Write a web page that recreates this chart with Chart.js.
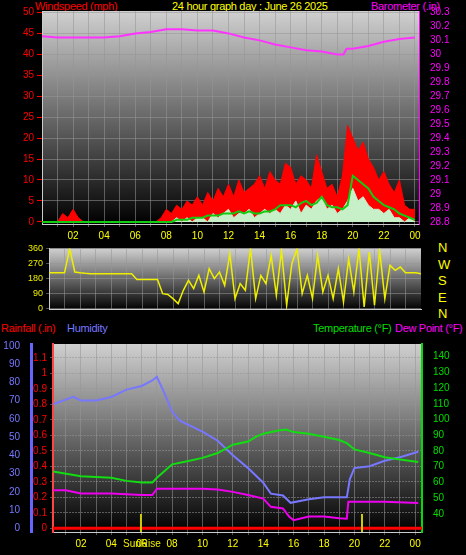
<!DOCTYPE html>
<html>
<head>
<meta charset="utf-8">
<script src="https://cdn.jsdelivr.net/npm/chart.js@4.4.1/dist/chart.umd.min.js"></script>
<style>
  body { margin: 0; background: #000; width: 466px; height: 555px; overflow: hidden; font-family: "Liberation Sans", Arial, sans-serif; }
  canvas { position: absolute; left: 0; }
  .t { position: absolute; font-size: 11px; letter-spacing: -0.3px; white-space: nowrap; line-height: 12px; }
</style>
</head>
<body>
<div class="t" style="left:35px;top:0;color:#f00">Windspeed (mph)</div>
<div class="t" style="left:172px;top:0;color:#ff0">24 hour graph day : June 26 2025</div>
<div class="t" style="left:371px;top:0;color:#f0f">Barometer (.in)</div>
<div class="t" style="left:438px;top:240px;color:#ff0;line-height:16.5px;font-size:13px">N<br>W<br>S<br>E<br>N</div>
<div class="t" style="left:1px;top:322px;color:#f00">Rainfall (.in)</div>
<div class="t" style="left:67px;top:322px;color:#77f">Humidity</div>
<div class="t" style="left:313px;top:322px;color:#0d0">Temperature (°F)</div>
<div class="t" style="left:395px;top:322px;color:#f0f">Dew Point (°F)</div>

<canvas id="wind" style="top:0" width="466" height="245"></canvas>
<canvas id="dir" style="top:240px" width="466" height="78"></canvas>
<canvas id="temp" style="top:335px" width="466" height="220"></canvas>

<script>
// wind samples every 20 minutes, 00:00 .. 24:00
const windTimes = Array.from({ length: 73 }, (_, i) => i / 3);
const windGust = [
  0,0,0,0,2,1, 3,1,0,0,0,0, 0,0,0,0,0,0, 0,0,0,0,0,1,
  3,2,4,3,5,4, 6,4,7,5,8,6, 9,6,10,7,8,9, 11,8,12,10,9,14,
  13,9,11,10,8,16, 12,8,9,6,11,23, 20,17,19,15,13,10, 12,9,7,10,4,3, 3
];
const windSpeed = [
  0,0,0,0,0,0, 0,0,0,0,0,0, 0,0,0,0,0,0, 0,0,0,0,0,0,
  0,0,1,0,1,0, 1,1,0,2,1,2, 3,1,2,2,3,1, 2,3,2,3,2,4,
  3,5,2,4,3,5, 6,3,4,2,3,5, 8,5,6,4,3,3, 2,3,1,1,0,1, 0
];
const windAvg = [
  0,0,0,0,0,0, 0,0,0,0,0,0, 0,0,0,0,0,0, 0,0,0,0,0,0,
  0,0,0.5,0.5,0.5,1, 1,1,1.5,1.5,1.5,2, 2,2,2.5,2,2.5,2, 2,2.5,2.5,3,4,4,
  4,3.5,4.5,5,4,4.5, 6,4,3.5,3.5,3,4, 11,10,9,8,6,5, 4,3.5,3,2,1.5,1, 0.5
];
const windDir = [
  215,215,215, 215,360,220, 215,212,210, 210,210,210, 210,210,210, 210,210,175,
  175,175,175, 175,90,85, 60,30,110, 170,120,200, 100,240,180, 220,140,330,
  60,150,110, 360,60,200, 150,320,80, 350,20,270, 360,90,200, 60,320,100,
  200,60,240, 40,300,100, 360,10,340, 20,350,60, 260,230,250, 215,215,215, 210
];

const baroHours = [0,1,2,4,5,6,7,8,9,10,11,12,13,14,15,16,17,18,19,19.4,19.6,20,21,22,23,24];
const baro = [30.13,30.12,30.12,30.12,30.13,30.15,30.16,30.18,30.18,30.17,30.17,30.15,30.12,30.10,30.07,30.05,30.03,30.02,30.0,30.0,30.04,30.04,30.06,30.09,30.11,30.12];

const humHours = [0.16,1.5,2,3,4,5,6,6.7,7,7.5,8,8.5,10,11,12,13,14,14.5,15.3,15.8,17,18,19,19.5,19.7,20,21,22,23,24.2];
const humidity = [68,72,70,70,72,76,78,81,83,74,64,59,53,48,40,33,25,19,18,14,16,17,17,17,27,33,34,37,39,42];

const tempHours = [0.16,2,4,5,6,6.7,7,8,9,10,11,12,13,13.5,14,15,15.5,16,17,18,19,19.5,20,21,22,23,24.2];
const temperature = [67,64,63,61,60,60,63,71.5,73.5,75.6,78.7,84,86,89,91,93,93.6,92,91,89,87,85,81,78.7,76,74.6,73];

const dewHours = [0.16,1,2,4,6,6.7,7,10,11,12,13,14,14.5,15.3,15.7,16,17,18,19,19.5,19.6,20,22,24.2];
const dewPoint = [55,55,53,53,52,52,56,56,55.5,54,52,49.7,44.5,43.5,38.3,36,38.3,38.3,37.3,37,47.7,47.7,47.7,47];

const rainHours = [0.16, 24.45];
const rainfall = [0, 0];

const sunRise = 5.95, sunSet = 20.5;

const pts = (xs, ys) => xs.map((x, i) => ({ x, y: ys[i] }));
const font = { family: "Liberation Sans, Arial, sans-serif", size: 10 };
const gridColor = "rgba(150,150,150,0.55)";
const hourLabel = v => (v % 2 === 0 && v > 0 ? String(v % 24).padStart(2, "0") : "");

const backdrop = {
  id: "backdrop",
  beforeDraw(chart) {
    const { ctx, chartArea: a } = chart;
    const g = ctx.createLinearGradient(0, a.top, 0, a.bottom);
    g.addColorStop(0, "#d0d0d0");
    g.addColorStop(1, "#000");
    ctx.save();
    ctx.fillStyle = g;
    ctx.fillRect(a.left, a.top, a.right - a.left, a.bottom - a.top);
    ctx.restore();
  }
};

function fix(w) { return s => { s.width = w; }; }
function fixH(h) { return s => { s.height = h; }; }
function intTicks(from, to, step) {
  return s => { s.ticks = []; for (let v = from; v <= to + 1e-9; v += step) s.ticks.push({ value: +v.toFixed(2) }); };
}
const line = (data, color, axis, width, extra) => Object.assign({
  data, borderColor: color, backgroundColor: color, yAxisID: axis,
  borderWidth: width, pointRadius: 0, tension: 0
}, extra || {});

new Chart(document.getElementById("wind"), {
  type: "line",
  data: {
    datasets: [
      line(pts(windTimes, windAvg), "#1c1", "y", 2),
      line(pts(windTimes, windSpeed), "#c8f0c8", "y", 1, { fill: "origin" }),
      line(pts(windTimes, windGust), "#f00", "y", 1, { fill: "origin" }),
      line(pts(baroHours, baro), "#f3f", "y2", 2)
    ]
  },
  options: {
    responsive: false, animation: false,
    layout: { padding: { top: 11 } },
    plugins: { legend: { display: false }, tooltip: { enabled: false } },
    scales: {
      x: {
        type: "linear", min: 0, max: 24.26,
        afterBuildTicks: intTicks(1, 24, 1), afterFit: fixH(21),
        ticks: { color: "#ff0", font, callback: hourLabel, maxRotation: 0, autoSkip: false },
        grid: { color: gridColor, tickLength: 3 }, border: { color: "#ccc" }
      },
      y: {
        min: -0.5, max: 50.3, afterBuildTicks: intTicks(0, 50, 5), afterFit: fix(42),
        ticks: { color: "#f00", font, autoSkip: false }, grid: { color: gridColor, tickColor: "#f00", tickLength: 5 },
        border: { color: "#ccc" }
      },
      y2: {
        position: "right", min: 28.788, max: 30.31, afterBuildTicks: intTicks(28.8, 30.3, 0.1), afterFit: fix(47),
        ticks: { color: "#f0f", font, autoSkip: false, callback: v => String(+v.toFixed(1)) },
        grid: { display: false }, border: { color: "#f0f" }
      }
    }
  },
  plugins: [backdrop]
});

new Chart(document.getElementById("dir"), {
  type: "line",
  data: { datasets: [line(pts(windTimes, windDir), "#ee0", "y", 1.5)] },
  options: {
    responsive: false, animation: false,
    layout: { padding: { top: 6 } },
    plugins: { legend: { display: false }, tooltip: { enabled: false } },
    scales: {
      x: {
        type: "linear", min: 0, max: 24, afterBuildTicks: intTicks(1, 23, 1), afterFit: fixH(6),
        ticks: { display: false }, grid: { color: gridColor, tickLength: 0 }, border: { color: "#ccc" }
      },
      y: {
        min: -6, max: 362, afterBuildTicks: intTicks(0, 360, 90), afterFit: fix(49),
        ticks: { color: "#ee0", font: { family: font.family, size: 9 }, autoSkip: false },
        grid: { color: gridColor, tickLength: 3 }, border: { color: "#ccc" }
      },
      yR: { position: "right", min: 0, max: 360, afterFit: fix(45), ticks: { display: false }, grid: { display: false }, border: { display: false } }
    }
  },
  plugins: [backdrop]
});

const sunMarks = {
  id: "sunMarks",
  afterDatasetsDraw(chart) {
    const { ctx, chartArea: a, scales: { x } } = chart;
    ctx.save();
    ctx.strokeStyle = "#cc0";
    ctx.lineWidth = 2;
    [sunRise, sunSet].forEach(h => {
      const px = x.getPixelForValue(h);
      ctx.beginPath(); ctx.moveTo(px, a.bottom - 18); ctx.lineTo(px, a.bottom); ctx.stroke();
    });
    ctx.fillStyle = "#ee0";
    ctx.font = "10px Liberation Sans, Arial, sans-serif";
    ctx.textAlign = "center";
    ctx.fillText("SunRise", x.getPixelForValue(sunRise) + 1, a.bottom + 15);
    ctx.restore();
  }
};

new Chart(document.getElementById("temp"), {
  type: "line",
  data: {
    datasets: [
      line(pts(rainHours, rainfall), "#f00", "rain", 3),
      line(pts(tempHours, temperature), "#1d1", "temp", 2),
      line(pts(dewHours, dewPoint), "#e0e", "temp", 2),
      line(pts(humHours, humidity), "#77f", "hum", 2)
    ]
  },
  options: {
    responsive: false, animation: false,
    layout: { padding: { top: 5 } },
    plugins: { legend: { display: false }, tooltip: { enabled: false } },
    scales: {
      x: {
        type: "linear", min: 0.16, max: 24.45,
        afterBuildTicks: intTicks(1, 24, 1), afterFit: fixH(23),
        ticks: { color: "#ff0", font, callback: hourLabel, maxRotation: 0, autoSkip: false },
        grid: { color: gridColor, tickLength: 3 }, border: { color: "#ccc" }
      },
      hum: {
        position: "left", weight: 1, min: -2, max: 101, afterBuildTicks: intTicks(0, 100, 10), afterFit: fix(31),
        ticks: { color: "#77f", font, autoSkip: false }, grid: { display: false }, border: { color: "#66f", width: 3 }
      },
      rain: {
        position: "left", weight: 0, min: -0.024, max: 1.19, afterBuildTicks: intTicks(0, 1.1, 0.1), afterFit: fix(22),
        ticks: { color: "#f00", font, autoSkip: false, callback: v => String(+v.toFixed(1)) },
        grid: { color: gridColor, tickLength: 3 }, border: { color: "#f44", width: 2, dash: [2, 1] }
      },
      temp: {
        position: "right", min: 28.5, max: 148, afterBuildTicks: intTicks(40, 140, 10), afterFit: fix(44),
        ticks: { color: "#0d0", font, autoSkip: false }, grid: { display: false }, border: { color: "#0d0", width: 2 }
      }
    }
  },
  plugins: [backdrop, sunMarks]
});
</script>
</body>
</html>
